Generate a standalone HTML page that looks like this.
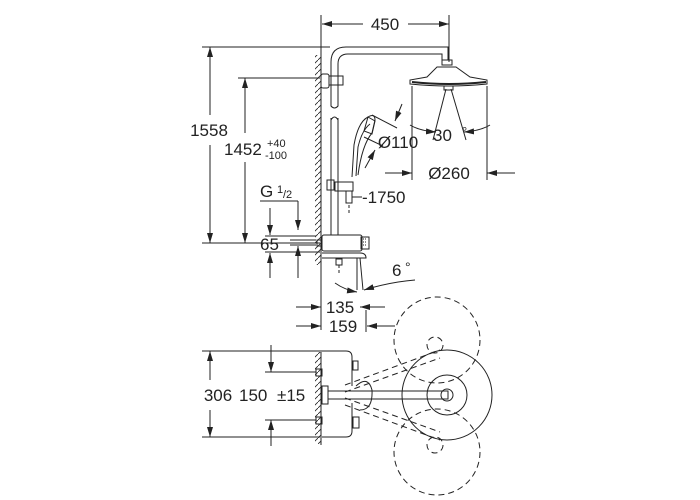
<!DOCTYPE html>
<html><head><style>
html,body{margin:0;padding:0;background:#fff}
svg{display:block}
text{font-family:"Liberation Sans",sans-serif;fill:#222}
</style></head><body>
<svg width="700" height="500" viewBox="0 0 700 500" xmlns="http://www.w3.org/2000/svg">
<defs>
<marker id="a" viewBox="0 0 10 6" refX="10" refY="3" markerWidth="10" markerHeight="6" orient="auto-start-reverse" markerUnits="userSpaceOnUse"><path d="M0,0 L10,3 L0,6 z" fill="#222"/></marker>
<pattern id="h" width="6" height="6" patternUnits="userSpaceOnUse"><path d="M0,6 L6,0" stroke="#222" stroke-width="0.8"/></pattern>
</defs>
<g stroke="#222" stroke-width="1" fill="none">
<line x1="321" y1="15" x2="321" y2="330"/>
<rect x="315" y="55" width="6" height="210" fill="url(#h)" stroke="none"/>
<line x1="321" y1="350" x2="321" y2="445"/>
<rect x="315" y="352" width="6" height="92" fill="url(#h)" stroke="none"/>
<line x1="449" y1="15" x2="449" y2="62"/>
<line x1="322" y1="24" x2="363" y2="24" marker-start="url(#a)"/>
<line x1="408" y1="24" x2="449" y2="24" marker-end="url(#a)"/>
<line x1="202" y1="47" x2="330" y2="47"/>
<line x1="210" y1="47" x2="210" y2="115" marker-start="url(#a)"/>
<line x1="210" y1="145" x2="210" y2="243" marker-end="url(#a)"/>
<line x1="202" y1="243" x2="320" y2="243"/>
<line x1="238" y1="78" x2="320" y2="78"/>
<line x1="245" y1="78" x2="245" y2="133" marker-start="url(#a)"/>
<line x1="245" y1="162" x2="245" y2="243" marker-end="url(#a)"/>
<path d="M331,105 L331,62 Q331,47 346,47 L448,47 L448,60"/>
<path d="M338,105 L338,64 Q338,54 348,54 L442,54 L442,60"/>
<rect x="321" y="74" width="8" height="14" rx="2"/>
<rect x="329" y="76" width="14" height="9"/>
<path d="M331,88 L331,106 Q334.5,110 338,106 L338,88"/>
<path d="M331,118 L331,237 M338,118 L338,237"/>
<path d="M331,120 Q334.5,114 338,120"/>
<rect x="442" y="60" width="10" height="5"/>
<path d="M437,67 L456,67 L470,77 L487,80 L487,84 Q449,88 410,84 L410,80 L427,77 Z" fill="#fff"/>
<path d="M412,82 Q449,86 486,82" stroke-width="2"/>
<rect x="444" y="86" width="9" height="4"/>
<line x1="446" y1="89" x2="433" y2="140"/>
<line x1="451" y1="89" x2="466" y2="140"/>
<path d="M410,125 Q420,131 436,132" marker-end="url(#a)"/>
<path d="M490,125 Q480,131 464,132" marker-end="url(#a)"/>
<line x1="412" y1="86" x2="412" y2="180"/>
<line x1="487" y1="86" x2="487" y2="180"/>
<line x1="385" y1="173" x2="412" y2="173" marker-end="url(#a)"/>
<line x1="515" y1="173" x2="487" y2="173" marker-end="url(#a)"/>
<path d="M352,177 L354,145 Q358,122 368,117 Q375,113 375,120 L372,133 Q362,145 358,175" fill="#fff"/>
<path d="M356,176 L358,147 Q362,130 370,124"/>
<path d="M368,117 L375,121 L372,134 L364,131 Z"/>
<line x1="372" y1="115" x2="397" y2="128"/>
<line x1="364" y1="137" x2="383" y2="146"/>
<line x1="402" y1="104" x2="395" y2="121" marker-end="url(#a)"/>
<line x1="365" y1="168" x2="375" y2="150" marker-end="url(#a)"/>
<rect x="327" y="180" width="7" height="10"/>
<rect x="335" y="182" width="18" height="9"/>
<rect x="346" y="191" width="6" height="12"/>
<line x1="352" y1="197" x2="362" y2="197"/>
<line x1="349" y1="205" x2="349" y2="213" stroke-dasharray="3,2"/>
<rect x="322" y="235" width="40" height="16" rx="2" fill="#fff"/>
<rect x="361" y="237" width="8" height="12"/>
<path d="M363,239h4M363,242h4M363,245h4" stroke-dasharray="1,1"/>
<rect x="317" y="240" width="5" height="6"/>
<path d="M322,253 L360,253 Q366,253 366,258 L322,258"/>
<rect x="336" y="259" width="6" height="6"/>
<line x1="339" y1="265" x2="339" y2="275" stroke-dasharray="3,2"/>
<line x1="360" y1="258" x2="363" y2="290"/>
<line x1="357" y1="258" x2="357" y2="290"/>
<line x1="260" y1="201" x2="298" y2="201"/>
<line x1="298" y1="201" x2="298" y2="230" marker-end="url(#a)"/>
<line x1="270" y1="208" x2="270" y2="235" marker-end="url(#a)"/>
<line x1="265" y1="236" x2="316" y2="236"/>
<line x1="290" y1="240" x2="316" y2="240"/>
<line x1="290" y1="245" x2="316" y2="245"/>
<line x1="265" y1="252" x2="320" y2="252"/>
<line x1="270" y1="278" x2="270" y2="253" marker-end="url(#a)"/>
<line x1="298" y1="278" x2="298" y2="246" marker-end="url(#a)"/>
<path d="M335,283 Q345,290 357,292" marker-end="url(#a)"/>
<path d="M415,280 Q390,282 364,290" marker-end="url(#a)"/>
<line x1="296" y1="307" x2="321" y2="307" marker-end="url(#a)"/>
<line x1="385" y1="307" x2="360" y2="307" marker-end="url(#a)"/>
<line x1="296" y1="326" x2="321" y2="326" marker-end="url(#a)"/>
<line x1="395" y1="326" x2="367" y2="326" marker-end="url(#a)"/>
<line x1="366" y1="310" x2="366" y2="332"/>
<path d="M322,351 L346,351 Q352,351 352,357 L352,386 M352,403 L352,431 Q352,437 346,437 L322,437"/>
<rect x="316" y="369" width="6" height="7"/>
<rect x="316" y="417" width="6" height="7"/>
<rect x="353" y="361" width="5" height="9"/>
<rect x="353" y="417" width="6" height="11"/>
<rect x="322" y="386" width="6" height="18"/>
<rect x="328" y="391" width="120" height="8" fill="#fff"/>
<circle cx="447" cy="395" r="6"/>
<circle cx="447" cy="395" r="45"/>
<circle cx="447" cy="395" r="20"/>
<path d="M356,386 Q368,375 372,390 Q373,410 360,410"/>
<g stroke-dasharray="6,4">
<circle cx="437" cy="340" r="43"/>
<circle cx="437" cy="452" r="43"/>
<path d="M345,385 L440,350 M345,392 L440,358"/>
<path d="M345,398 L440,432 M345,405 L440,440"/>
<circle cx="435" cy="345" r="8"/>
<circle cx="435" cy="445" r="8"/>
</g>
<line x1="202" y1="351" x2="320" y2="351"/>
<line x1="202" y1="437" x2="320" y2="437"/>
<line x1="210" y1="351" x2="210" y2="380" marker-start="url(#a)"/>
<line x1="210" y1="410" x2="210" y2="437" marker-end="url(#a)"/>
<line x1="265" y1="372" x2="316" y2="372"/>
<line x1="265" y1="420" x2="316" y2="420"/>
<line x1="271" y1="345" x2="271" y2="372" marker-end="url(#a)"/>
<line x1="271" y1="446" x2="271" y2="420" marker-end="url(#a)"/>
</g>
<g font-size="17">
<text x="385" y="30" text-anchor="middle">450</text>
<text x="209" y="136" text-anchor="middle">1558</text>
<text x="224" y="155">1452</text>
<text x="267" y="147" font-size="11">+40</text>
<text x="265" y="159" font-size="11">-100</text>
<text x="398" y="148" text-anchor="middle">Ø110</text>
<text x="433" y="141">30</text>
<text x="462" y="136" font-size="13">°</text>
<text x="449" y="179" text-anchor="middle">Ø260</text>
<text x="362" y="203">-1750</text>
<text x="260" y="197">G</text>
<text x="277" y="193" font-size="11">1</text>
<text x="283" y="198" font-size="11">/2</text>
<text x="260" y="250">65</text>
<text x="392" y="276">6</text>
<text x="405" y="272" font-size="14">°</text>
<text x="340" y="313" text-anchor="middle">135</text>
<text x="343" y="332" text-anchor="middle">159</text>
<text x="218" y="401" text-anchor="middle">306</text>
<text x="239" y="401">150</text>
<text x="277" y="401">±15</text>
</g>
</svg>
</body></html>
